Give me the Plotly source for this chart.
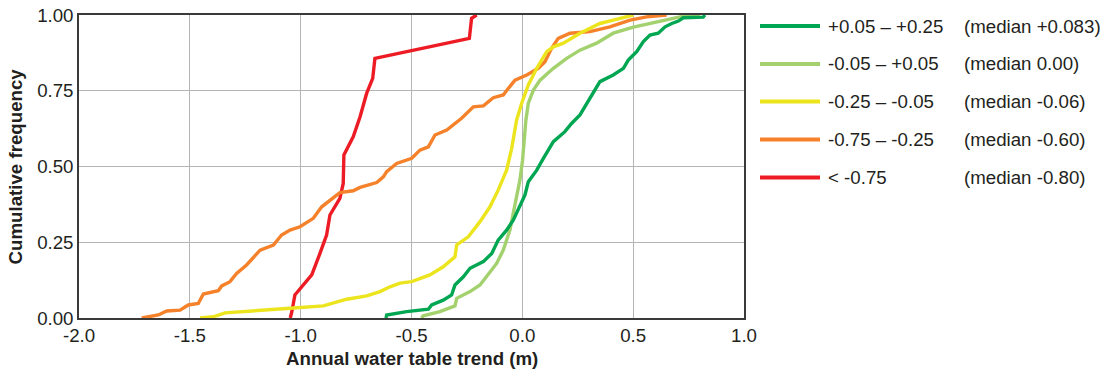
import plotly.graph_objects as go

# ---- data ----
dg_x = [-0.615, -0.612, -0.522, -0.424, -0.409, -0.357, -0.319, -0.304, -0.266, -0.236, -0.176, -0.138, -0.109,
        -0.071, -0.041, -0.011, 0.012, 0.027, 0.065, 0.095, 0.117, 0.140, 0.192, 0.222, 0.260, 0.283, 0.320,
        0.350, 0.410, 0.456, 0.478, 0.516, 0.546, 0.576, 0.613, 0.644, 0.674, 0.704, 0.726, 0.816, 0.824]
dg_y = [0.0, 0.01, 0.021, 0.029, 0.043, 0.059, 0.076, 0.109, 0.136, 0.164, 0.186, 0.213, 0.257,
        0.29, 0.323, 0.373, 0.406, 0.45, 0.488, 0.527, 0.554, 0.582, 0.615, 0.642, 0.67, 0.697, 0.742,
        0.78, 0.802, 0.824, 0.851, 0.879, 0.912, 0.934, 0.94, 0.961, 0.972, 0.98, 0.991, 0.993, 1.0]

lg_x = [-0.455, -0.447, -0.372, -0.304, -0.296, -0.236, -0.191, -0.154, -0.116, -0.086, -0.056, -0.041, -0.026,
        -0.011, 0.001, 0.007, 0.016, 0.027, 0.050, 0.080, 0.140, 0.200, 0.260, 0.335, 0.410, 0.501, 0.561,
        0.651, 0.711, 0.801]
lg_y = [0.0, 0.007, 0.021, 0.04, 0.065, 0.087, 0.109, 0.142, 0.18, 0.224, 0.29, 0.346, 0.4,
        0.455, 0.521, 0.587, 0.653, 0.709, 0.752, 0.785, 0.824, 0.857, 0.884, 0.907, 0.94, 0.96, 0.97,
        0.983, 0.994, 1.0]

ye_x = [-1.454, -1.394, -1.341, -1.274, -1.048, -0.898, -0.853, -0.792, -0.702, -0.642, -0.597, -0.552,
        -0.499, -0.417, -0.357, -0.304, -0.296, -0.244, -0.191, -0.146, -0.109, -0.071, -0.048, -0.026,
        -0.003, 0.027, 0.065, 0.110, 0.140, 0.185, 0.260, 0.350, 0.410, 0.486, 0.501]
ye_y = [0.0, 0.004, 0.017, 0.021, 0.032, 0.04, 0.05, 0.062, 0.073, 0.087, 0.103, 0.115,
        0.12, 0.142, 0.169, 0.202, 0.241, 0.268, 0.318, 0.367, 0.422, 0.488, 0.56, 0.653,
        0.709, 0.769, 0.824, 0.879, 0.895, 0.907, 0.94, 0.972, 0.983, 0.998, 1.0]

or_x = [-1.717, -1.642, -1.604, -1.544, -1.507, -1.462, -1.439, -1.372, -1.356, -1.319, -1.289, -1.244,
        -1.183, -1.123, -1.086, -1.048, -1.003, -0.943, -0.905, -0.875, -0.823, -0.763, -0.732, -0.657,
        -0.627, -0.612, -0.567, -0.499, -0.462, -0.424, -0.394, -0.341, -0.274, -0.221, -0.176, -0.131,
        -0.086, -0.063, -0.033, 0.020, 0.072, 0.102, 0.132, 0.162, 0.215, 0.305, 0.395, 0.486, 0.561, 0.651]
or_y = [0.0, 0.01, 0.023, 0.026, 0.043, 0.048, 0.079, 0.09, 0.106, 0.12, 0.147, 0.175,
        0.224, 0.241, 0.274, 0.29, 0.301, 0.329, 0.367, 0.384, 0.414, 0.42, 0.431, 0.447,
        0.466, 0.483, 0.51, 0.527, 0.554, 0.565, 0.604, 0.62, 0.659, 0.697, 0.7, 0.727,
        0.736, 0.758, 0.785, 0.802, 0.824, 0.846, 0.89, 0.923, 0.94, 0.945, 0.961, 0.983, 0.994, 1.0]

rd_x = [-1.047, -1.040, -1.026, -0.950, -0.913, -0.883, -0.868, -0.823, -0.808, -0.805, -0.763, -0.732,
        -0.702, -0.675, -0.665, -0.239, -0.229, -0.206]
rd_y = [0.0, 0.02, 0.076, 0.142, 0.213, 0.274, 0.34, 0.395, 0.444, 0.538, 0.598, 0.664,
        0.742, 0.791, 0.857, 0.923, 0.989, 1.0]

labels = ["+0.05 \u2013 +0.25", "-0.05 \u2013 +0.05", "-0.25 \u2013 -0.05", "-0.75 \u2013 -0.25", "< -0.75"]
medians = ["(median +0.083)", "(median 0.00)", "(median -0.06)", "(median -0.60)", "(median -0.80)"]
colors = ["#00A651", "#A3D16E", "#ECE51E", "#F5822A", "#ED1C24"]

x_ticks = [-2.0, -1.5, -1.0, -0.5, 0.0, 0.5, 1.0]
x_ticktext = ["-2.0", "-1.5", "-1.0", "-0.5", "0.0", "0.5", "1.0"]
y_ticks = [0.0, 0.25, 0.5, 0.75, 1.0]
y_ticktext = ["0.00", "0.25", "0.50", "0.75", "1.00"]

series = [(dg_x, dg_y), (lg_x, lg_y), (ye_x, ye_y), (or_x, or_y), (rd_x, rd_y)]

FONT = "Liberation Sans, Arial, sans-serif"
FS = 18.7
TXT = "#231F20"
W, H = 1104, 378
L, R, T, B = 79, 744, 15, 318

fig = go.Figure()
# draw bottom-to-top: red, orange, yellow, light green, dark green
for i in [4, 3, 2, 1, 0]:
    xs, ys = series[i]
    fig.add_trace(go.Scatter(x=xs, y=ys, mode="lines", name=labels[i],
                             line=dict(color=colors[i], width=3.4), showlegend=False))

def px2paper_x(px):
    return (px - L) / (R - L)

def px2paper_y(py):
    return (B - py) / (B - T)

row_y = [26, 64, 101.5, 139.5, 177.5]
shapes = []
annotations = []
for i in range(5):
    yy = px2paper_y(row_y[i])
    shapes.append(dict(type="line", xref="paper", yref="paper",
                       x0=px2paper_x(760), x1=px2paper_x(820), y0=yy, y1=yy,
                       line=dict(color=colors[i], width=4)))
    annotations.append(dict(text=labels[i], xref="paper", yref="paper", x=px2paper_x(826), y=yy,
                            xanchor="left", yanchor="middle", showarrow=False,
                            font=dict(family=FONT, size=FS, color=TXT)))
    annotations.append(dict(text=medians[i], xref="paper", yref="paper", x=px2paper_x(962), y=yy,
                            xanchor="left", yanchor="middle", showarrow=False,
                            font=dict(family=FONT, size=FS, color=TXT)))

annotations.append(dict(text="<b>Annual water table trend (m)</b>", xref="paper", yref="paper",
                        x=0.5, y=px2paper_y(358.5), xanchor="center", yanchor="middle", showarrow=False,
                        font=dict(family=FONT, size=FS, color=TXT)))
annotations.append(dict(text="<b>Cumulative frequency</b>", xref="paper", yref="paper",
                        x=px2paper_x(15), y=px2paper_y(166.5), xanchor="center", yanchor="middle",
                        textangle=-90, showarrow=False,
                        font=dict(family=FONT, size=FS, color=TXT)))

fig.update_layout(
    width=W, height=H,
    margin=dict(l=L, r=W - R, t=T, b=H - B, pad=0, autoexpand=False),
    paper_bgcolor="white", plot_bgcolor="white",
    font=dict(family=FONT, size=FS, color=TXT),
    shapes=shapes, annotations=annotations,
    showlegend=False,
)
fig.update_xaxes(range=[-2.0, 1.0], tickvals=x_ticks, ticktext=x_ticktext, automargin=False,
                 showgrid=True, gridcolor="#B5B5B5", gridwidth=1,
                 showline=True, linecolor="#3A3A3A", linewidth=1.5, mirror=True,
                 ticks="", zeroline=False, tickfont=dict(size=FS, color=TXT))
fig.update_yaxes(range=[0.0, 1.0], tickvals=y_ticks, ticktext=y_ticktext, automargin=False,
                 showgrid=True, gridcolor="#B5B5B5", gridwidth=1,
                 showline=True, linecolor="#3A3A3A", linewidth=1.5, mirror=True,
                 ticks="", zeroline=False, tickfont=dict(size=FS, color=TXT))

fig.write_html("out.html")
